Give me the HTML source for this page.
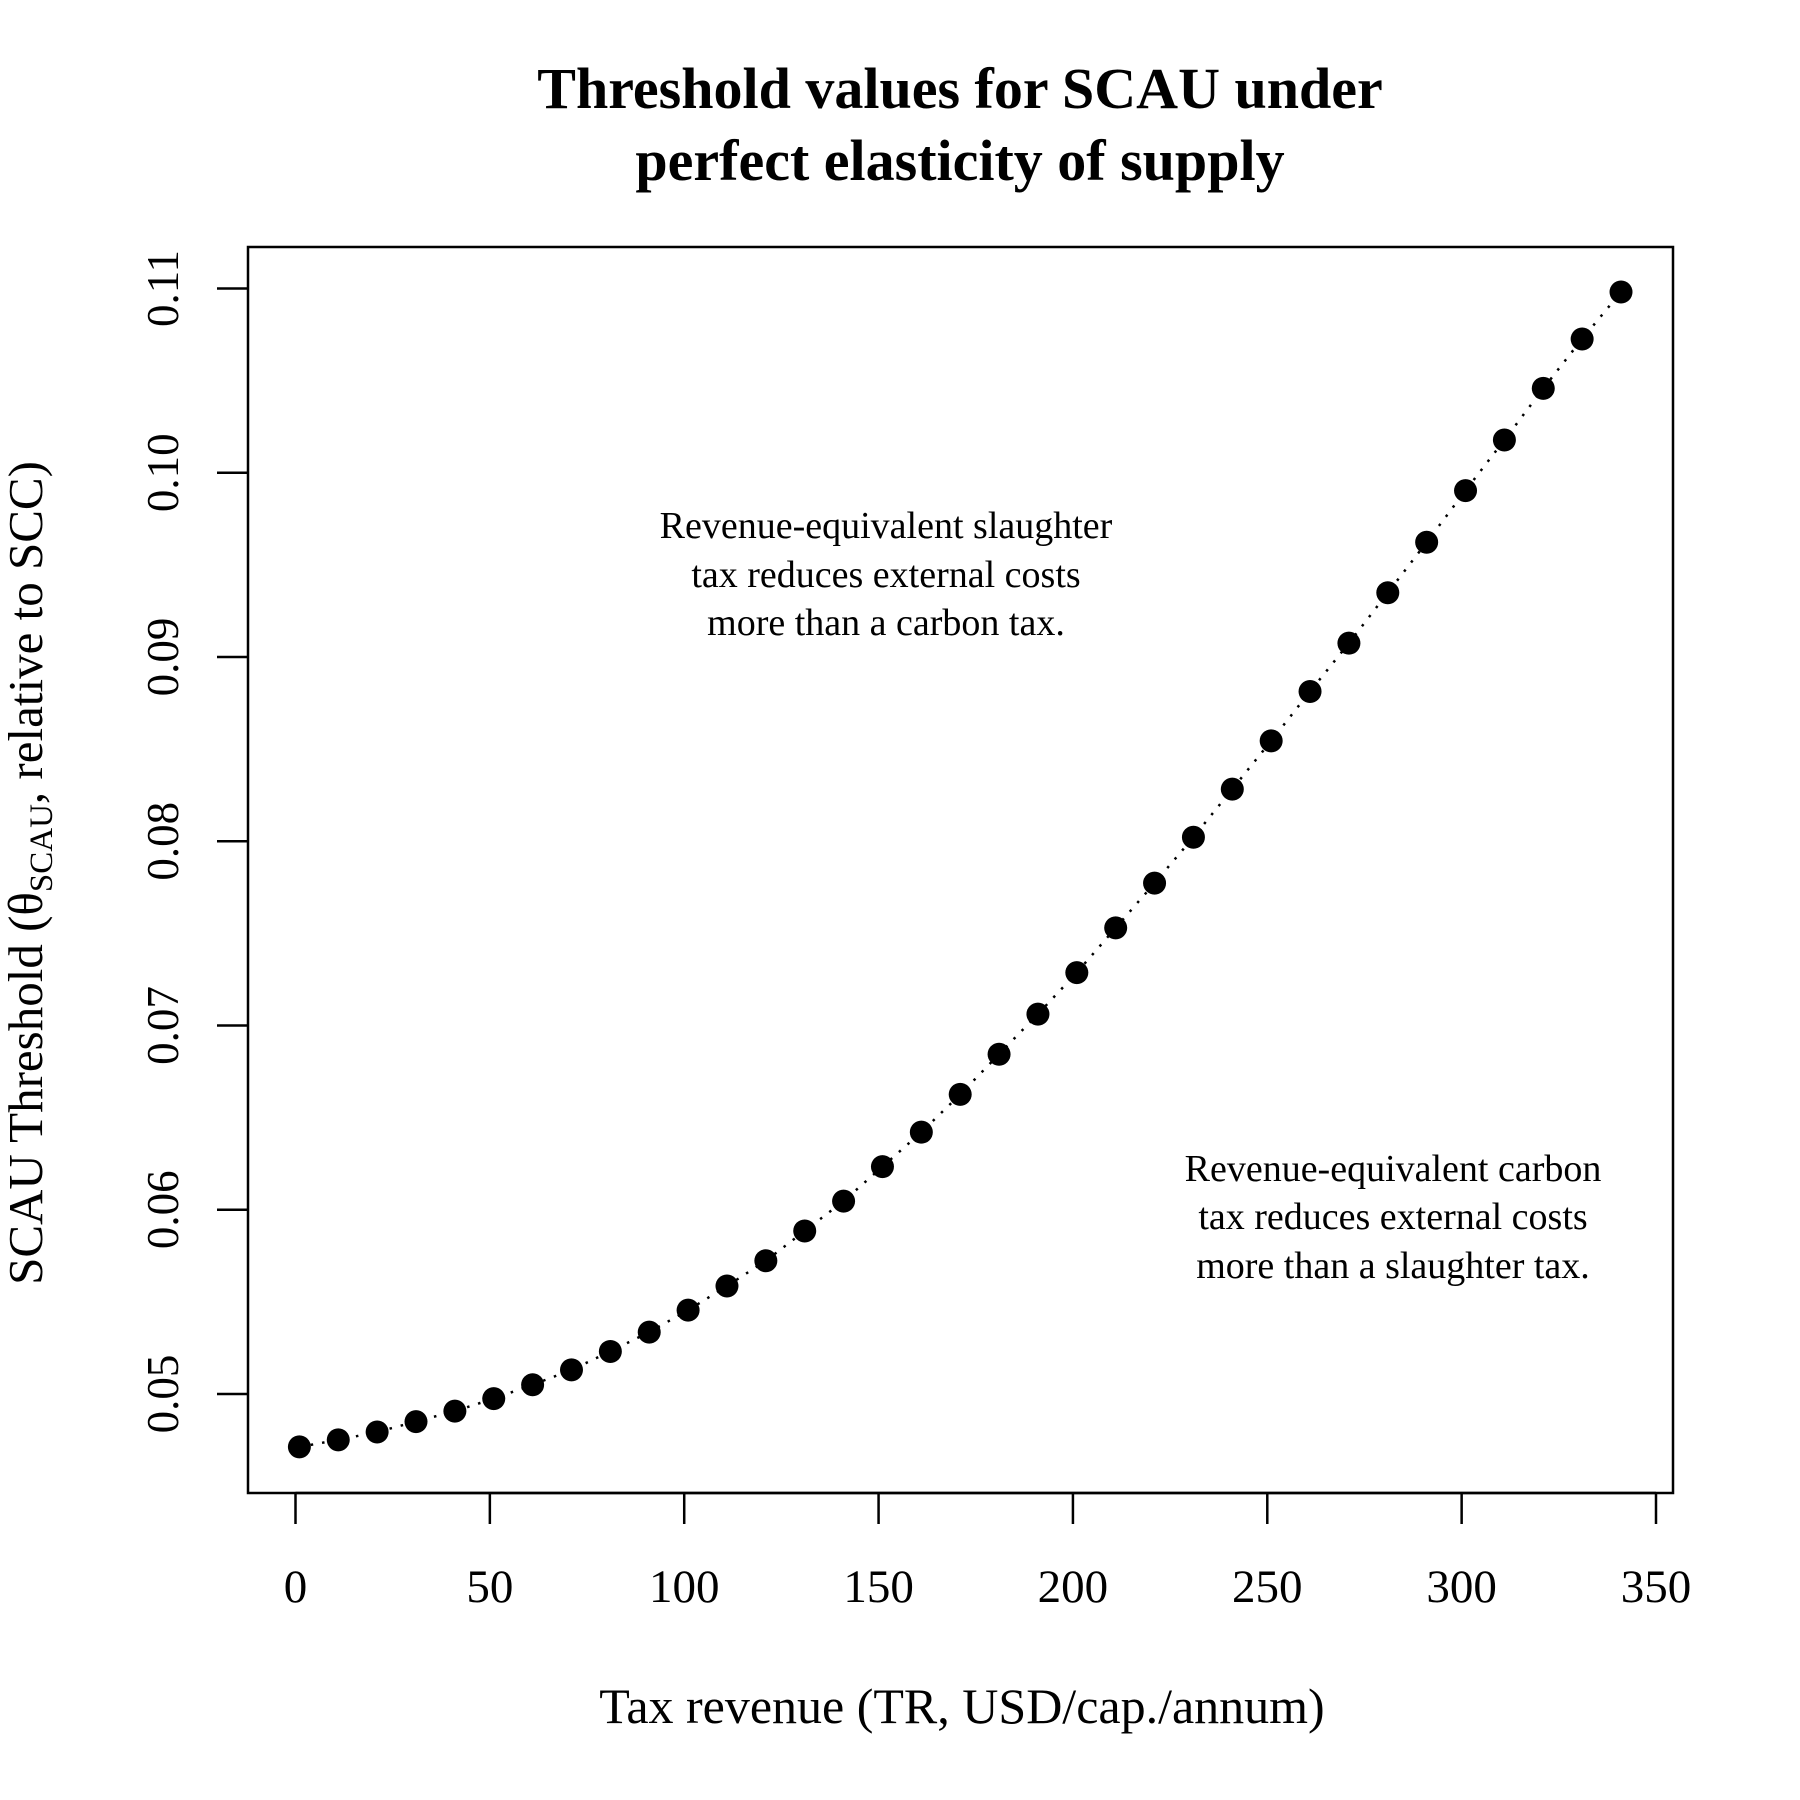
<!DOCTYPE html>
<html><head><meta charset="utf-8"><style>
html,body{margin:0;padding:0;background:#fff;}
svg{display:block;font-family:"Liberation Serif",serif;}
</style></head><body>
<svg id="chart" width="1800" height="1800" viewBox="0 0 1800 1800">
<text x="960" y="108" text-anchor="middle" font-size="58" font-weight="bold">Threshold values for SCAU under</text>
<text x="960" y="180" text-anchor="middle" font-size="58" font-weight="bold">perfect elasticity of supply</text>
<rect x="248" y="247" width="1425" height="1246" fill="none" stroke="#000" stroke-width="2.5"/>
<g id="xaxis"></g>
<g id="yaxis"></g>
<g id="marks"></g>
<text x="962" y="1723" text-anchor="middle" font-size="50">Tax revenue (TR, USD/cap./annum)</text>
<text transform="translate(42,873) rotate(-90)" text-anchor="middle" font-size="49">SCAU Threshold (θ<tspan font-size="33" dy="10">SCAU</tspan><tspan dy="-10">, relative to SCC)</tspan></text>
<g font-size="38" text-anchor="middle">
<text x="886" y="538">Revenue-equivalent slaughter</text>
<text x="886" y="587">tax reduces external costs</text>
<text x="886" y="635">more than a carbon tax.</text>
</g>
<g font-size="38" text-anchor="middle">
<text x="1393" y="1181">Revenue-equivalent carbon</text>
<text x="1393" y="1229">tax reduces external costs</text>
<text x="1393" y="1278">more than a slaughter tax.</text>
</g>
</svg>
<script>
const xs = [1,11,21,31,41,51,61,71,81,91,101,111,121,131,141,151,161,171,181,191,201,211,221,231,241,251,261,271,281,291,301,311,321,331,341];
const ys = [0.04713,0.04751,0.04794,0.04850,0.04907,0.04975,0.05050,0.05131,0.05231,0.05336,0.05455,0.05586,0.05723,0.05885,0.06047,0.06234,0.06421,0.06626,0.06844,0.07062,0.07287,0.07530,0.07773,0.08022,0.08283,0.08545,0.08813,0.09075,0.09349,0.09623,0.09903,0.10178,0.10458,0.10726,0.10981];
const xTicks = [0,50,100,150,200,250,300,350];
const yTicks = [0.05,0.06,0.07,0.08,0.09,0.10,0.11];
const yTickLabels = ["0.05","0.06","0.07","0.08","0.09","0.10","0.11"];
const NS="http://www.w3.org/2000/svg";
function X(v){return 295.5+(v-0)*(1656-295.5)/350;}
function Y(v){return 1394-(v-0.05)*(1394-288.5)/0.06;}
function mk(t,a,p){const e=document.createElementNS(NS,t);for(const k in a)e.setAttribute(k,a[k]);p.appendChild(e);return e;}
const xa=document.getElementById('xaxis'),ya=document.getElementById('yaxis'),m=document.getElementById('marks');
mk('line',{x1:X(0),x2:X(350),y1:1493,y2:1493,stroke:'#000','stroke-width':2.5},xa);
xTicks.forEach(t=>{
 const l=mk('line',{x1:X(t),x2:X(t),y1:1493,y2:1524,stroke:'#000','stroke-width':2.5},xa);
 
 
 const tx=mk('text',{x:X(t),y:1602,'text-anchor':'middle','font-size':47},xa);tx.textContent=t;
 
 
});
yTicks.forEach((t,i)=>{
 const l=mk('line',{x1:217,x2:248,y1:Y(t),y2:Y(t),stroke:'#000','stroke-width':2.5},ya);
 
 
 const tx=mk('text',{transform:`translate(178,${Y(t)}) rotate(-90)`,'text-anchor':'middle','font-size':45},ya);tx.textContent=yTickLabels[i];
 
 
});
const pts=xs.map((x,i)=>X(x).toFixed(1)+','+Y(ys[i]).toFixed(1)).join(' ');
const pl=mk('polyline',{points:pts,fill:'none',stroke:'#000','stroke-width':2.5,'stroke-dasharray':'2.5 9'},m);


xs.forEach((x,i)=>{
 const c=mk('circle',{cx:X(x),cy:Y(ys[i]),r:11.5,fill:'#000'},m);
 
 
});
</script>
</body></html>
